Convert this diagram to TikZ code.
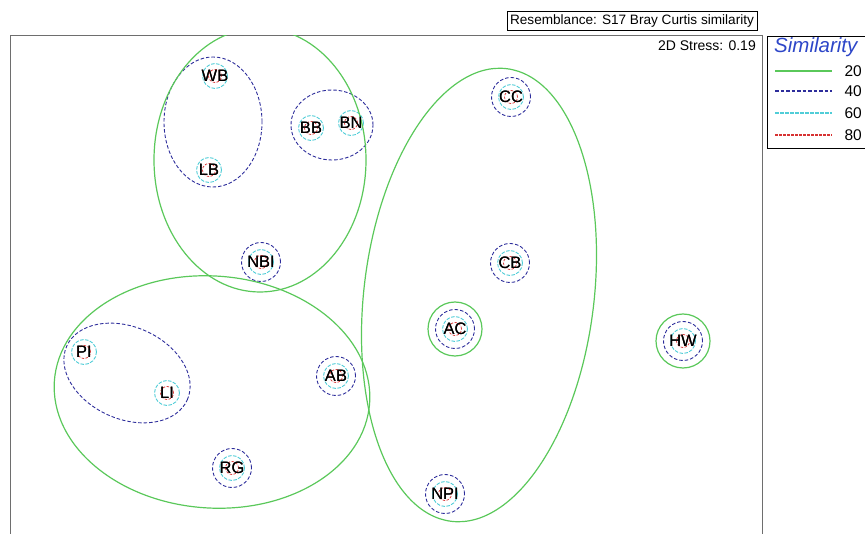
\documentclass[tikz,border=0pt]{standalone}
\usepackage{fontspec}
\setmainfont{Liberation Sans}
\usetikzlibrary{positioning}

\begin{document}
\begin{tikzpicture}[x=1pt, y=-1pt,
    site/.style={font=\fontsize{16.5}{16.5}\selectfont, inner sep=0pt},
    lev20/.style={draw=simgreen, line width=1.2pt},
    lev40/.style={draw=simnavy, line width=0.9pt, dash pattern=on 3.5pt off 2pt},
    lev60/.style={draw=simcyan, line width=0.9pt, dash pattern=on 3.5pt off 1.5pt},
    lev80/.style={draw=simred, line width=0.7pt, dash pattern=on 2.5pt off 1.5pt},
    legline/.style={line width=1.2pt},
    legtext/.style={font=\fontsize{15.5}{15.5}\selectfont, anchor=east, inner sep=0pt}]

    % Define colors
    \definecolor{simgreen}{RGB}{90, 200, 90}
    \definecolor{simnavy}{RGB}{45, 45, 155}
    \definecolor{simcyan}{RGB}{80, 205, 215}
    \definecolor{simred}{RGB}{215, 50, 50}
    \definecolor{framegray}{RGB}{110, 110, 110}
    \definecolor{titleblue}{RGB}{45, 70, 200}

    \useasboundingbox (0, 0) rectangle (865, 534);

    % Header box
    \node[draw, line width=0.7pt, inner xsep=3pt, inner ysep=2pt, font=\fontsize{13.6}{13.6}\selectfont,
          minimum height=19pt] (header) at (632, 21) {Resemblance: S17 Bray Curtis similarity};

    % Plot frame
    \draw[framegray, line width=1pt] (10, 540) -- (10, 36) -- (762, 36) -- (762, 540);
    \node[anchor=north east, font=\fontsize{14}{14}\selectfont, inner sep=0pt] (stress) at (756, 41) {2D Stress: 0.19};

    % Sites
    \node[site] (WB) at (215, 76) {WB};
    \node[site] (LB) at (209, 170) {LB};
    \node[site] (BB) at (311, 128) {BB};
    \node[site] (BN) at (351, 123) {BN};
    \node[site] (NBI) at (261, 262) {NBI};
    \node[site] (CC) at (511, 97) {CC};
    \node[site] (CB) at (510, 263) {CB};
    \node[site] (AC) at (455, 329) {AC};
    \node[site] (HW) at (683, 341) {HW};
    \node[site] (PI) at (84, 352) {PI};
    \node[site] (LI) at (167, 393) {LI};
    \node[site] (AB) at (336, 376) {AB};
    \node[site] (RG) at (232, 468) {RG};
    \node[site] (NPI) at (445, 494) {NPI};

    \begin{scope}
    \clip (10, 36) rectangle (762, 540);

    % 80% and 60% contours round every site
    \foreach \s in {WB, LB, BB, BN, NBI, CC, CB, AC, HW, PI, LI, AB, RG, NPI} {
        \draw[lev80] (\s) circle (6.5pt);
        \draw[lev60] (\s) circle (12.5pt);
    }

    % 40% contours
    \foreach \s in {NBI, CC, CB, AC, HW, AB, RG, NPI} {
        \draw[lev40] (\s) circle (19.5pt);
    }
    \draw[lev40] (213, 122) ellipse [x radius=49pt, y radius=65pt];
    \draw[lev40] (332, 125) ellipse [x radius=41pt, y radius=35pt];
    \draw[lev40, rotate around={-24:(127, 373)}] (127, 373) ellipse [x radius=66pt, y radius=46pt];

    % 20% contours
    \draw[lev20] (AC) circle (27pt);
    \draw[lev20] (HW) circle (27pt);
    \draw[lev20] (260, 160) ellipse [x radius=106pt, y radius=132pt];
    \draw[lev20, rotate around={-4:(212, 392)}] (212, 392) ellipse [x radius=158pt, y radius=116pt];
    \draw[lev20, rotate around={-7:(479, 295)}] (479, 295) ellipse [x radius=115pt, y radius=228pt];
    \end{scope}

    % Site labels on top
    \foreach \s in {WB, LB, BB, BN, NBI, CC, CB, AC, HW, PI, LI, AB, RG, NPI} {
        \node[site] at (\s) {\s};
    }

    % Legend
    \draw[line width=0.7pt] (870, 148) -- (767, 148) -- (767, 36) -- (870, 36);
    \node[anchor=west, inner sep=0pt, font=\fontsize{20.5}{20.5}\selectfont\itshape, text=titleblue] (legtitle) at (774, 47) {Similarity};
    \draw[lev20, legline] (775, 71) -- (832, 71);
    \node[legtext] (leg20) at (862, 71) {20};
    \draw[lev40, legline] (775, 91) -- (832, 91);
    \node[legtext] (leg40) at (862, 91) {40};
    \draw[lev60, legline] (775, 113) -- (832, 113);
    \node[legtext] (leg60) at (862, 113) {60};
    \draw[lev80, legline] (775, 135) -- (832, 135);
    \node[legtext] (leg80) at (862, 135) {80};
\end{tikzpicture}
\end{document}
